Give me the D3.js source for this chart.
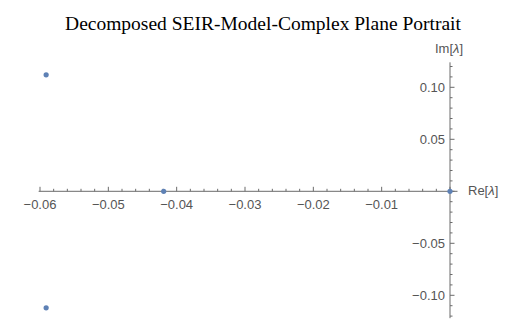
<!DOCTYPE html>
<html><head><meta charset="utf-8">
<script src="https://cdn.jsdelivr.net/npm/d3@7"></script>
<style>body{margin:0;background:#fff}svg{display:block}</style>
</head><body>
<svg id="c" width="515" height="326"></svg>
<script>
const title = "Decomposed SEIR-Model-Complex Plane Portrait";
const reValues = [-0.0591, -0.0591, -0.0419, 0];
const imValues = [0.112, -0.112, 0, 0];
const xTickLabels = [-0.06, -0.05, -0.04, -0.03, -0.02, -0.01];
const yTickLabels = [0.10, 0.05, -0.05, -0.10];
const xMinorStep = 0.002, yMinorStep = 0.01;

const svg = d3.select("#c");
const x = d3.scaleLinear().domain([-0.06, 0]).range([40, 450]);
const y = d3.scaleLinear().domain([-0.1, 0.1]).range([295.3, 87.3]);
const axisColor = "#6b6b6b", labelColor = "#555";
const fmt = v => (v < 0 ? "\u2212" : "") + Math.abs(v).toFixed(2);

svg.append("text").attr("x", 263).attr("y", 29.5).attr("text-anchor", "middle")
  .attr("font-family", "Liberation Serif, Times New Roman, serif").attr("font-size", 19.5)
  .attr("fill", "#000").text(title);

// x axis
const x0 = y(0), y0 = x(0);
svg.append("line").attr("x1", x(-0.0602)).attr("x2", x(0.0011)).attr("y1", x0).attr("y2", x0)
  .attr("stroke", axisColor).attr("stroke-width", 1);
const xMinor = d3.range(-0.06, 0.0001, xMinorStep);
svg.selectAll(".xt").data(xMinor).join("line")
  .attr("x1", d => x(d)).attr("x2", d => x(d))
  .attr("y1", x0).attr("y2", d => x0 - (Math.abs(Math.round(d*1000)) % 10 === 0 ? 4.5 : 2.5))
  .attr("stroke", axisColor);
svg.selectAll(".xl").data(xTickLabels).join("text")
  .attr("x", d => x(d)).attr("y", x0 + 17.5).attr("text-anchor", "middle")
  .attr("font-family", "Liberation Sans, Arial, sans-serif").attr("font-size", 13)
  .attr("fill", labelColor).text(fmt);

// y axis
svg.append("line").attr("x1", y0).attr("x2", y0).attr("y1", y(0.124)).attr("y2", y(-0.122))
  .attr("stroke", axisColor).attr("stroke-width", 1);
const yMinor = d3.range(-0.12, 0.1201, yMinorStep);
svg.selectAll(".yt").data(yMinor).join("line")
  .attr("y1", d => y(d)).attr("y2", d => y(d))
  .attr("x1", y0).attr("x2", d => y0 + (Math.abs(Math.round(d*100)) % 5 === 0 ? 4.5 : 2.5))
  .attr("stroke", axisColor);
svg.selectAll(".yl").data(yTickLabels).join("text")
  .attr("x", y0 - 5).attr("y", d => y(d) + 4.5).attr("text-anchor", "end")
  .attr("font-family", "Liberation Sans, Arial, sans-serif").attr("font-size", 13)
  .attr("fill", labelColor).text(fmt);

// axis labels
svg.append("text").attr("x", 449).attr("y", 53).attr("text-anchor", "middle")
  .attr("font-family", "Liberation Sans, Arial, sans-serif").attr("font-size", 13)
  .attr("fill", labelColor).html("Im[<tspan font-style='italic'>λ</tspan>]");
svg.append("text").attr("x", 468).attr("y", 195).attr("text-anchor", "start")
  .attr("font-family", "Liberation Sans, Arial, sans-serif").attr("font-size", 13)
  .attr("fill", labelColor).html("Re[<tspan font-style='italic'>λ</tspan>]");

// points
svg.selectAll(".pt").data(reValues.map((r, i) => [r, imValues[i]])).join("circle")
  .attr("cx", d => x(d[0])).attr("cy", d => y(d[1])).attr("r", 2.6)
  .attr("fill", "#5e81b5");
</script>
</body></html>
